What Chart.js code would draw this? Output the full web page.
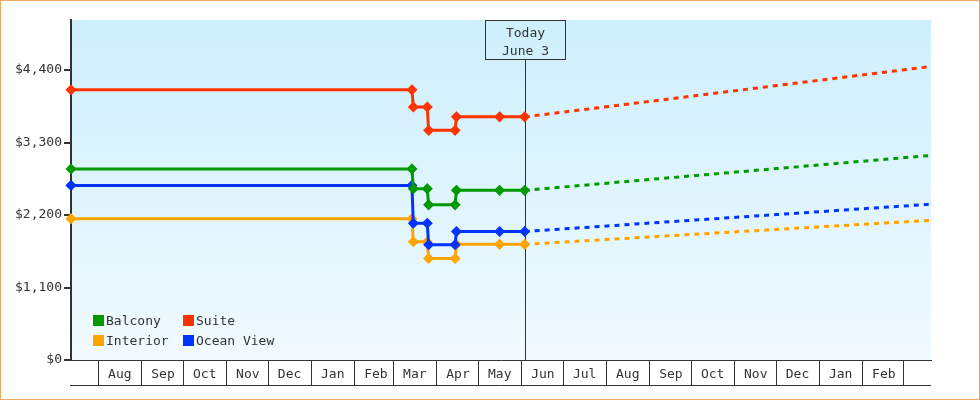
<!DOCTYPE html>
<html>
<head>
<meta charset="utf-8">
<script src="https://cdn.jsdelivr.net/npm/chart.js@4"></script>
<style>
html, body { margin: 0; padding: 0; background: #fff; }
</style>
</head>
<body>
<canvas id="graficoPrecos" width="980" height="400"></canvas>
<script>
// datas e precos
const datasHist = ['2022-07-12', '2023-03-14', '2023-03-15', '2023-03-25', '2023-03-26', '2023-04-14', '2023-04-15', '2023-05-16', '2023-06-03'];
const balcony  = [2900, 2900, 2600, 2600, 2355, 2355, 2575, 2575, 2575];
const suite    = [4100, 4100, 3840, 3840, 3485, 3485, 3690, 3690, 3690];
const interior = [2145, 2145, 1795, 1795, 1540, 1540, 1755, 1755, 1755];
const ocean    = [2650, 2650, 2075, 2075, 1750, 1750, 1950, 1950, 1950];

// previsao (tracejada)
const datasPrev = ['2023-06-03', '2023-09-01', '2023-12-01', '2024-03-21'];
const balconyPrev  = [2575, 2740, 2905, 3105];
const suitePrev    = [3690, 3925, 4165, 4455];
const interiorPrev = [1755, 1868, 1982, 2120];
const oceanPrev    = [1950, 2078, 2207, 2365];

const inicio = '2022-07-12';
const fim = '2024-03-21';
const hoje = '2023-06-03';

const mesesTicks = ['2022-08-01', '2022-09-01', '2022-10-01', '2022-11-01', '2022-12-01', '2023-01-01', '2023-02-01', '2023-03-01', '2023-04-01', '2023-05-01', '2023-06-01', '2023-07-01', '2023-08-01', '2023-09-01', '2023-10-01', '2023-11-01', '2023-12-01', '2024-01-01', '2024-02-01', '2024-03-01'];
const mesesLabels = ['Aug', 'Sep', 'Oct', 'Nov', 'Dec', 'Jan', 'Feb', 'Mar', 'Apr', 'May', 'Jun', 'Jul', 'Aug', 'Sep', 'Oct', 'Nov', 'Dec', 'Jan', 'Feb'];
const yTicks = [0, 1100, 2200, 3300, 4400];

const fonte = "'DejaVu Sans Mono', monospace";
const cores = { Balcony: '#009900', Suite: '#ff3300', Interior: '#ffa500', 'Ocean View': '#0033ff' };

const pontos = (datas, vals) => datas.map((d, i) => ({ x: Date.parse(d), y: vals[i] }));

function serie(nome, vals, ordem) {
    return {
        label: nome,
        data: pontos(datasHist, vals),
        borderColor: cores[nome],
        backgroundColor: cores[nome],
        borderWidth: 3,
        pointStyle: 'rectRot',
        pointRadius: 4.5,
        pointBorderWidth: 1.5,
        pointHoverRadius: 4.5,
        tension: 0,
        clip: false,
        order: ordem
    };
}

function previsao(nome, vals, ordem) {
    return {
        label: nome + ' (prev)',
        data: pontos(datasPrev, vals),
        borderColor: cores[nome],
        borderWidth: 3,
        borderDash: [5, 5],
        pointRadius: 0,
        tension: 0,
        clip: false,
        order: ordem + 10
    };
}

const extras = {
    id: 'extras',
    beforeDraw(chart) {
        const { ctx, chartArea: a } = chart;
        const g = ctx.createLinearGradient(0, a.top, 0, a.bottom);
        g.addColorStop(0, '#cdeffc');
        g.addColorStop(1, '#f1faff');
        ctx.save();
        ctx.fillStyle = g;
        ctx.fillRect(a.left, a.top, a.right - a.left, a.bottom - a.top);
        ctx.restore();
    },
    beforeDatasetsDraw(chart) {
        const { ctx, chartArea: a } = chart;
        const xt = Math.round(chart.scales.x.getPixelForValue(Date.parse(hoje))) + 0.5;
        const topo = a.top + 0.5, base = a.top + 39.5;
        ctx.save();
        ctx.strokeStyle = '#333';
        ctx.lineWidth = 1;
        ctx.beginPath();
        ctx.moveTo(xt, base);
        ctx.lineTo(xt, a.bottom);
        ctx.stroke();
        ctx.strokeRect(xt - 40, topo, 80, base - topo);
        ctx.fillStyle = '#333';
        ctx.font = '13px ' + fonte;
        ctx.textAlign = 'center';
        ctx.textBaseline = 'middle';
        ctx.fillText('Today', xt, a.top + 13.5);
        ctx.fillText('June 3', xt, a.top + 31.5);
        ctx.restore();
    },
    afterDatasetsDraw(chart) {
        const { ctx } = chart;
        const itens = [['Balcony', 93, 315], ['Suite', 183, 315], ['Interior', 93, 335], ['Ocean View', 183, 335]];
        ctx.save();
        ctx.font = '13px ' + fonte;
        ctx.textAlign = 'left';
        ctx.textBaseline = 'middle';
        itens.forEach(([nome, x, y]) => {
            ctx.fillStyle = cores[nome];
            ctx.fillRect(x, y, 11, 11);
            ctx.fillStyle = '#333';
            ctx.fillText(nome, x + 13, y + 6.5);
        });
        ctx.restore();
    },
    afterDraw(chart) {
        const { ctx, chartArea: a } = chart;
        ctx.save();
        ctx.strokeStyle = '#333';
        ctx.lineWidth = 1;
        ctx.beginPath();
        ctx.moveTo(a.left - 1, a.bottom + 25.5);
        ctx.lineTo(a.right, a.bottom + 25.5);
        ctx.stroke();
        ctx.strokeStyle = '#eaa862';
        ctx.strokeRect(0.5, 0.5, 979, 399);
        ctx.restore();
    }
};

new Chart(document.getElementById('graficoPrecos'), {
    type: 'line',
    data: {
        datasets: [
            serie('Balcony', balcony, 1),
            serie('Suite', suite, 2),
            serie('Ocean View', ocean, 3),
            serie('Interior', interior, 4),
            previsao('Balcony', balconyPrev, 1),
            previsao('Suite', suitePrev, 2),
            previsao('Ocean View', oceanPrev, 3),
            previsao('Interior', interiorPrev, 4)
        ]
    },
    options: {
        responsive: false,
        animation: false,
        layout: { padding: { left: 0, top: 20, right: 49, bottom: 15 } },
        plugins: {
            legend: { display: false },
            tooltip: { enabled: false }
        },
        scales: {
            x: {
                type: 'linear',
                min: Date.parse(inicio),
                max: Date.parse(fim),
                afterBuildTicks: s => { s.ticks = mesesTicks.map(d => ({ value: Date.parse(d) })); },
                afterFit: s => { s.height = 25; },
                grid: { drawOnChartArea: false, drawTicks: true, tickLength: 25, color: '#333', lineWidth: 1 },
                border: { display: true, color: '#333', width: 1 },
                ticks: {
                    autoSkip: false,
                    maxRotation: 0,
                    labelOffset: 21,
                    padding: -18,
                    color: '#333',
                    font: { family: fonte, size: 13 },
                    callback: (v, i) => i < mesesLabels.length ? mesesLabels[i] : ''
                }
            },
            y: {
                min: 0,
                max: 5160,
                afterBuildTicks: s => { s.ticks = yTicks.map(v => ({ value: v })); },
                afterFit: s => { s.width = 71; },
                grid: { drawOnChartArea: false, drawTicks: true, tickLength: 7, color: '#333', lineWidth: 2 },
                border: { display: true, color: '#333', width: 2 },
                ticks: {
                    padding: 2,
                    color: '#333',
                    font: { family: fonte, size: 13 },
                    callback: v => '$' + v.toLocaleString('en-US')
                }
            }
        }
    },
    plugins: [extras]
});
</script>
</body>
</html>
